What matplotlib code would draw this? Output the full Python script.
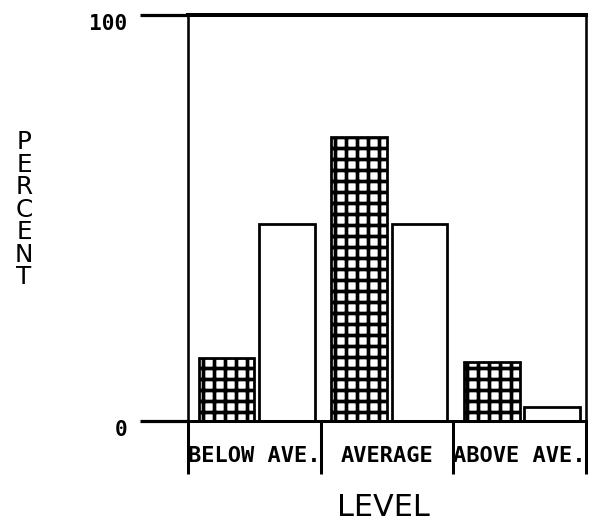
import numpy as np
import matplotlib
matplotlib.use("Agg")
import matplotlib.pyplot as plt
from matplotlib.transforms import ScaledTranslation

# values (percent)
levels = ["BELOW AVE.", "AVERAGE", "ABOVE AVE."]
group_a = [15.5, 70.0, 14.5]   # cross-hatched bars
group_b = [48.5, 48.5, 3.5]    # open bars
y_ticks = [0, 100]
y_tick_labels = ["0", "100"]

DPI = 66  # hatch cell of ~11px like the plotter grid
plt.rcParams["hatch.linewidth"] = 4.0
plt.rcParams["hatch.color"] = "black"

fig = plt.figure(figsize=(593 / DPI, 521 / DPI), dpi=DPI)
ax = fig.add_axes([188 / 593, 100 / 521, 398 / 593, 406 / 521])

x = np.arange(len(levels))
width = 0.42
ax.bar(x + 0.29, group_a, width, facecolor="white", edgecolor="black",
       linewidth=3.0, hatch="+")
ax.bar(x + 0.745, group_b, width, facecolor="white", edgecolor="black",
       linewidth=3.0)

ax.set_xlim(0, len(levels))
ax.set_ylim(0, 100)

# category dividers hanging below the axis
ax.set_xticks(np.arange(len(levels) + 1))
ax.set_xticklabels([""] * (len(levels) + 1))
ax.tick_params(axis="x", which="major", direction="out", length=58, width=3.3)
ax.set_xticks(x + 0.5, minor=True)
ax.set_xticklabels(levels, minor=True, family="DejaVu Sans Mono",
                   fontsize=24, fontweight="bold")
ax.tick_params(axis="x", which="minor", length=0, pad=27)

ax.set_yticks(y_ticks)
ax.set_yticklabels(y_tick_labels, family="DejaVu Sans Mono",
                   fontsize=23, fontweight="bold")
ax.tick_params(axis="y", direction="out", length=52, width=3.5, pad=14)
shift = ScaledTranslation(0, -7 / DPI, fig.dpi_scale_trans)
for lab in ax.get_yticklabels():
    lab.set_transform(lab.get_transform() + shift)

for side, lw in [("top", 4.4), ("left", 2.8), ("right", 2.8), ("bottom", 3.3)]:
    ax.spines[side].set_linewidth(lw)
    ax.spines[side].set_color("black")

ax.set_xlabel("LEVEL", fontsize=33, va="center")
ax.xaxis.set_label_coords(0.49, -0.214)
ax.set_ylabel("P\nE\nR\nC\nE\nN\nT", rotation=0, fontsize=27,
              ha="center", va="center", linespacing=0.92)
ax.yaxis.set_label_coords(-0.412, 0.52)

fig.savefig("out.png", dpi=DPI, facecolor="white")
